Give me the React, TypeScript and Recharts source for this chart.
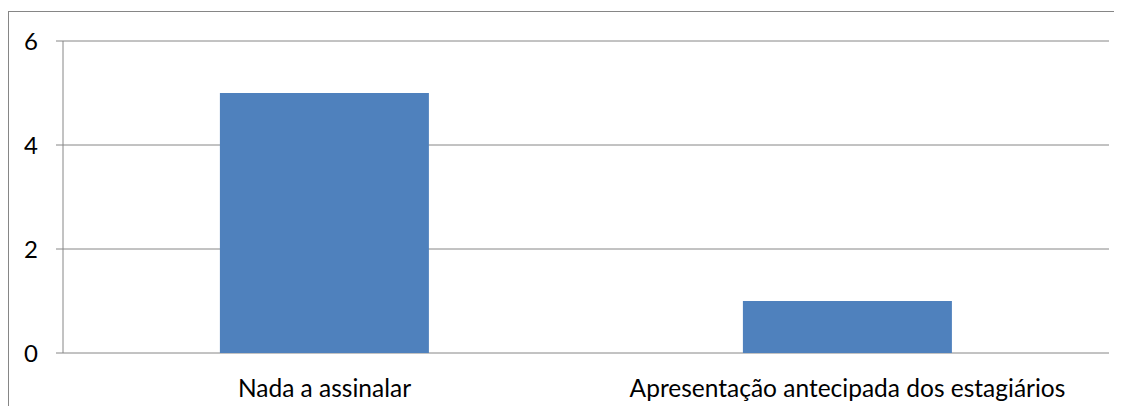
import React from "react";
import { BarChart, Bar, XAxis, YAxis, CartesianGrid } from "recharts";

const categories = ["Nada a assinalar", "Apresentação antecipada dos estagiários"];
const values = [5, 1];
const yTicks = [0, 2, 4, 6];

const data = categories.map((c, i) => ({ name: c, value: values[i] }));

const GRAY = "#868686";
const FONT = "Lato, 'Open Sans', sans-serif";

export default function App() {
  return (
    <div style={{ position: "relative", width: 1118, height: 398, overflow: "hidden", background: "#fff" }}>
      <style>{"html,body{overflow:hidden}"}</style>
      <div style={{ position: "absolute", left: 0, top: 3, width: 1106, height: 1, background: GRAY }} />
      <div style={{ position: "absolute", left: 0, top: 3, width: 1, height: 395, background: GRAY }} />
      <div style={{ position: "absolute", left: 0, top: 0 }}>
        <BarChart
          width={1110}
          height={398}
          data={data}
          margin={{ top: 33, right: 9, bottom: 13, left: 0 }}
          barCategoryGap="30%"
        >
          <CartesianGrid vertical={false} stroke={GRAY} strokeWidth={1} />
          <XAxis
            xAxisId="edges"
            type="number"
            domain={[0, 2]}
            ticks={[0, 1, 2]}
            allowDataOverflow
            height={0}
            tickSize={8}
            stroke={GRAY}
            tickLine={{ stroke: GRAY }}
            axisLine={{ stroke: GRAY }}
            tick={() => <g />}
          />
          <XAxis
            xAxisId="cat"
            dataKey="name"
            height={40}
            tickLine={false}
            axisLine={false}
            tickSize={8}
            tickMargin={19}
            interval={0}
            tick={{ fill: "#000", fontSize: 24.5, fontFamily: FONT }}
          />
          <YAxis
            width={55}
            domain={[0, 6]}
            ticks={yTicks}
            tickSize={7}
            tickMargin={18}
            stroke={GRAY}
            tickLine={{ stroke: GRAY }}
            axisLine={{ stroke: GRAY }}
            tick={{ fill: "#000", fontSize: 24, fontFamily: FONT }}
          />
          <Bar dataKey="value" xAxisId="cat" fill="#4F81BD" isAnimationActive={false} />
        </BarChart>
      </div>
    </div>
  );
}
